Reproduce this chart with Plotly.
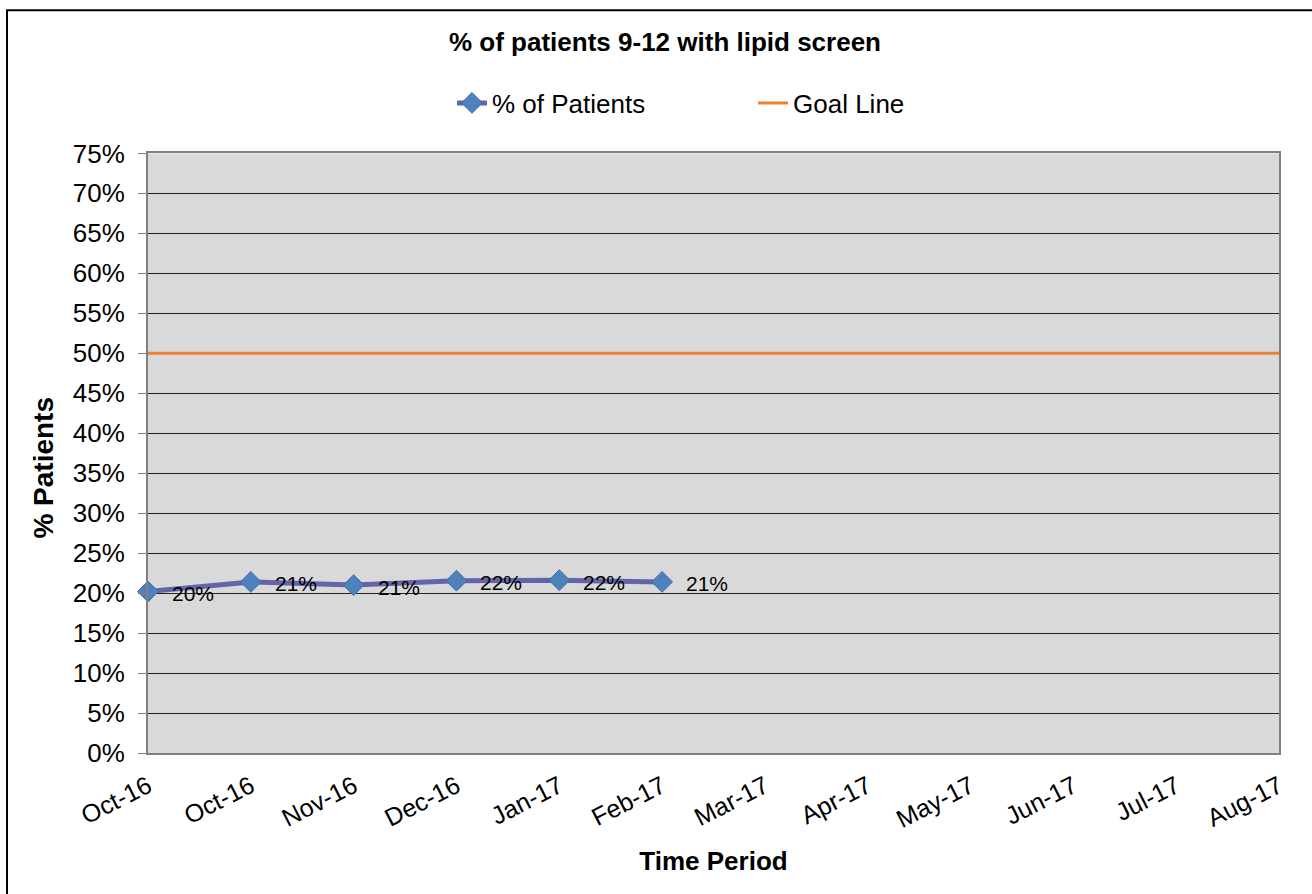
import plotly.graph_objects as go

categories = ["Oct-16", "Oct-16", "Nov-16", "Dec-16", "Jan-17", "Feb-17",
              "Mar-17", "Apr-17", "May-17", "Jun-17", "Jul-17", "Aug-17"]
pct_patients = [0.2020, 0.2140, 0.2100, 0.2155, 0.2162, 0.2140]
goal_line = [0.50, 0.50, 0.50, 0.50, 0.50, 0.50, 0.50, 0.50, 0.50, 0.50, 0.50, 0.50]
y_ticks = [0.00, 0.05, 0.10, 0.15, 0.20, 0.25, 0.30, 0.35, 0.40, 0.45, 0.50,
           0.55, 0.60, 0.65, 0.70, 0.75]

xpos = list(range(len(categories)))
FONT = "Liberation Sans, Arial, sans-serif"

fig = go.Figure()
fig.add_trace(go.Scatter(
    x=xpos[:len(pct_patients)], y=pct_patients, name="% of Patients",
    mode="lines+markers",
    line=dict(color="#6464A8", width=5),
    marker=dict(symbol="diamond", size=16, color="#4F81BD",
                line=dict(color="#3E6CA8", width=1)),
    cliponaxis=False,
))
fig.add_trace(go.Scatter(
    x=xpos, y=goal_line, name="Goal Line", mode="lines",
    line=dict(color="#F0812F", width=3), cliponaxis=False,
))

W, H = 1312, 894
L, R, T, B = 148, 33, 150, 141
pw, ph = W - L - R, H - T - B

annotations = []
for xi, v in zip(xpos, pct_patients):
    annotations.append(dict(
        x=xi, y=v, xref="x", yref="y", text=f"{round(v * 100)}%",
        showarrow=False, xanchor="left", yanchor="middle",
        xshift=22, yshift=-2,
        font=dict(family=FONT, size=21, color="#000000"),
    ))
annotations.append(dict(
    text="<b>% Patients</b>", textangle=-90, showarrow=False,
    xref="paper", yref="paper",
    x=(44 - L) / pw, y=(H - B - 466) / ph,
    xanchor="center", yanchor="middle",
    font=dict(family=FONT, size=28, color="#000000"),
))

fig.update_layout(
    width=W, height=H,
    margin=dict(l=L, r=R, t=T, b=B),
    paper_bgcolor="#FFFFFF", plot_bgcolor="#D9D9D9",
    font=dict(family=FONT, color="#000000"),
    title=dict(text="<b>% of patients 9-12 with lipid screen</b>",
               x=665 / W, xanchor="center", xref="container",
               y=1 - 42 / H, yanchor="middle", yref="container",
               font=dict(size=26, family=FONT)),
    legend=dict(orientation="h", x=452 / W, xanchor="left", xref="container",
                y=1 - 103 / H, yanchor="middle", yref="container",
                font=dict(size=26, family=FONT), entrywidth=256,
                entrywidthmode="pixels",
                tracegroupgap=0, bgcolor="rgba(0,0,0,0)"),
    showlegend=True,
    annotations=annotations,
    xaxis=dict(
        range=[0, len(categories) - 1], tickmode="array",
        tickvals=xpos, ticktext=categories, tickangle=-27,
        tickfont=dict(size=25, family=FONT), ticklabelstandoff=7,
        showgrid=False, zeroline=False,
        showline=True, linecolor="#808080", linewidth=2, mirror=True,
        ticks="", title=dict(text="<b>Time Period</b>",
                             font=dict(size=26, family=FONT), standoff=20),
    ),
    yaxis=dict(
        range=[0, 0.75], tickmode="array", tickvals=y_ticks,
        tickformat=".0%", tickfont=dict(size=26, family=FONT),
        ticklabelstandoff=8,
        showgrid=True, gridcolor="#222222", gridwidth=1,
        zeroline=False, showline=True, linecolor="#808080", linewidth=2,
        mirror=True, ticks="outside", ticklen=8, tickcolor="#808080",
        tickwidth=1,
    ),
    shapes=[dict(type="rect", xref="paper", yref="paper",
                 x0=(7 - L) / pw, x1=(W + 20 - L) / pw,
                 y0=-(B + 20) / ph, y1=(H - B - 6) / ph,
                 line=dict(color="#000000", width=2), fillcolor="rgba(0,0,0,0)",
                 layer="above")],
)

fig.write_html("out.html", config={"displayModeBar": False},
               post_script="document.body.style.margin='0px';document.body.style.overflow='hidden';")
